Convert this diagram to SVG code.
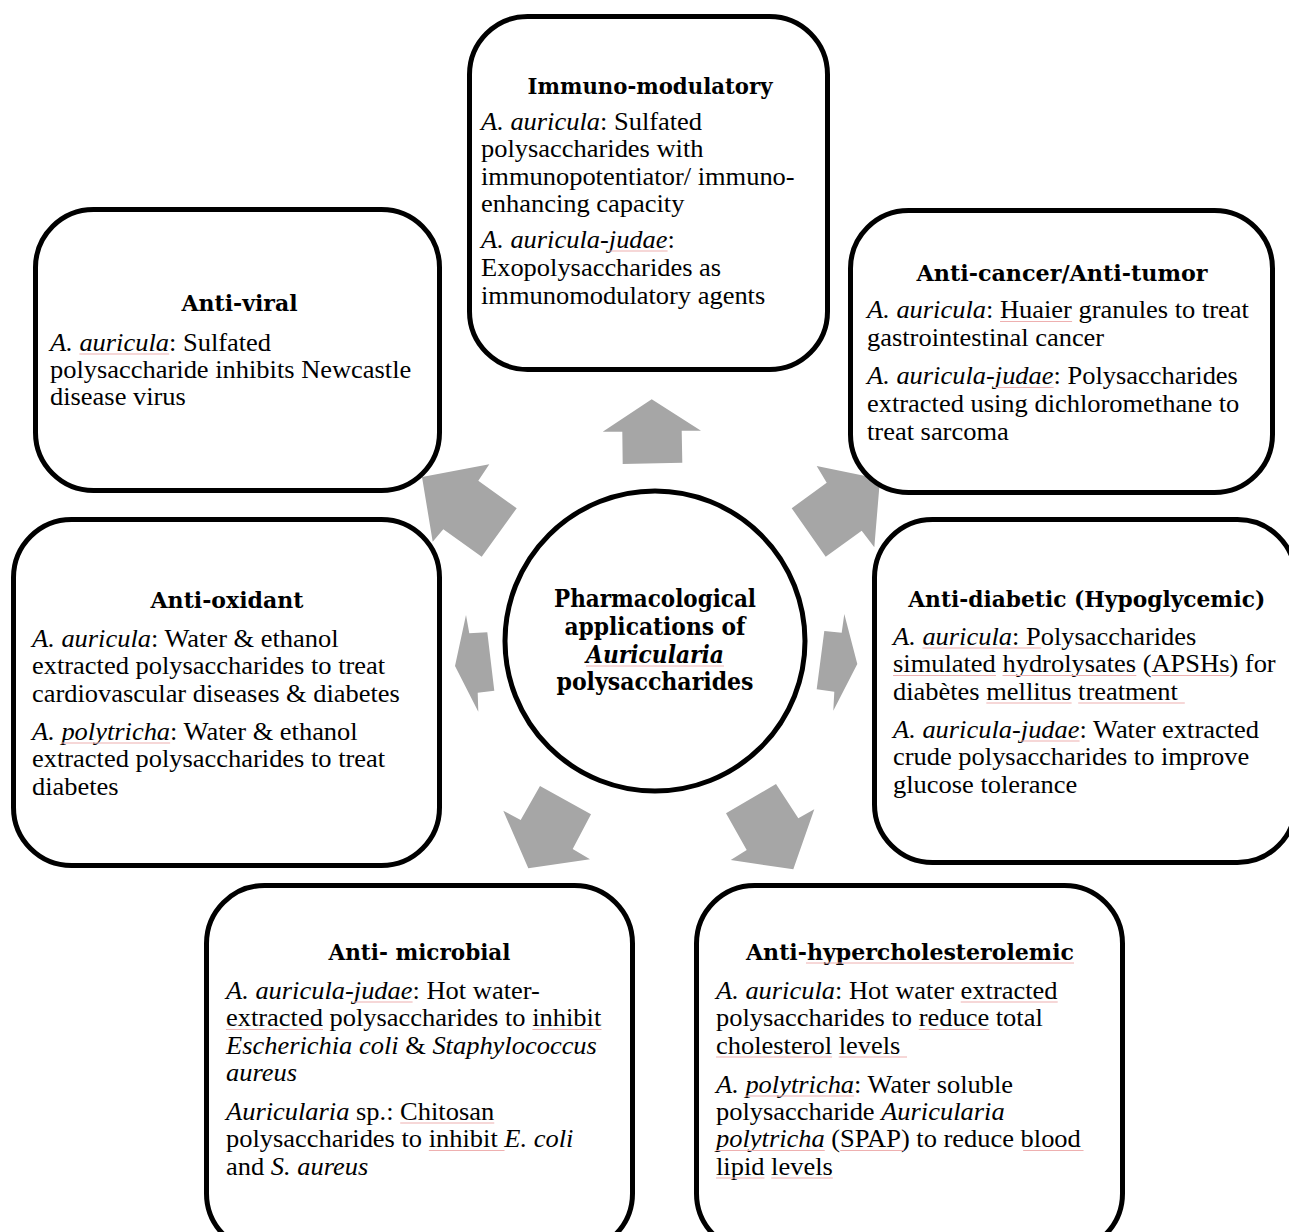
<svg xmlns="http://www.w3.org/2000/svg" width="1289" height="1232" viewBox="0 0 1289 1232">
<style>
.box{fill:#fff;stroke:#000;stroke-width:5}
.arrow{fill:#a6a6a6}
.h{font-family:"DejaVu Serif",serif;font-weight:bold;font-size:23px;text-anchor:middle;fill:#000}
.c{font-size:24px}
.b{font-family:"Liberation Serif","Times New Roman",serif;font-size:24.5px;fill:#000}
.i{font-style:italic}
.sq{fill:none;stroke:#eeb0b0;stroke-width:1}
</style>
<rect width="1289" height="1232" fill="#fff"/>
<g id="connectors">
<polygon class="arrow" points="651.7,399.3 701,430.7 681.7,430.7 682.3,462.7 622.7,464 622.3,431.7 602.7,431.7"/>
<polygon class="arrow" points="422,477 489.3,464.3 478.3,480.7 516.7,508.3 481.7,556.7 443.3,529.3 432.7,541.7"/>
<polygon class="arrow" points="880,479 874.3,547.3 861.7,530.7 825.7,556.7 791.7,508.3 826.7,482.7 816.7,466"/>
<polygon class="arrow" points="455,666 466,615 469.3,633.3 487.3,632.3 494.3,690.7 477.7,692.7 478.3,711.7"/>
<polygon class="arrow" points="857.3,664 833.3,710.7 834.3,691.7 816.7,689.3 824.3,631 841.7,632.7 844.3,614"/>
<polygon class="arrow" points="528.3,868.3 503.3,810.7 520.7,820 540,786 591,814.3 572.7,849 590,859.3"/>
<polygon class="arrow" points="793.3,869.3 730.7,860 746.7,850 726,813.3 776,784 798.3,818.3 814.3,809.3"/>
</g>
<g id="node-immuno">
<rect class="box" x="469.5" y="16.5" width="358" height="353" rx="58"/>
<text class="h" x="650" y="94" textLength="245" lengthAdjust="spacingAndGlyphs">Immuno-modulatory</text>
<g transform="matrix(1.08 0 0 1 481 0)">
<text class="b" x="0" y="130"><tspan class="i">A. auricula</tspan>: Sulfated</text>
<text class="b" x="0" y="157.5">polysaccharides with</text>
<text class="b" x="0" y="185">immunopotentiator/ immuno-</text>
<text class="b" x="0" y="212.5">enhancing capacity</text>
<text class="b" x="0" y="248"><tspan class="i">A. auricula-judae</tspan>:</text>
<text class="b" x="0" y="276.5">Exopolysaccharides as</text>
<text class="b" x="0" y="304.5">immunomodulatory agents</text>
<path class="sq" d="M118.4 251H172.8"/>
</g>
</g>
<g id="node-antiviral">
<rect class="box" x="35.5" y="209.5" width="404" height="281" rx="58"/>
<text class="h" x="239.5" y="311" textLength="116" lengthAdjust="spacingAndGlyphs">Anti-viral</text>
<g transform="matrix(1.08 0 0 1 50 0)">
<text class="b" x="0" y="351"><tspan class="i">A. auricula</tspan>: Sulfated</text>
<text class="b" x="0" y="378">polysaccharide inhibits Newcastle</text>
<text class="b" x="0" y="405">disease virus</text>
<path class="sq" d="M27.2 354H110.3"/>
</g>
</g>
<g id="node-anticancer">
<rect class="box" x="850.5" y="210.5" width="422" height="282" rx="58"/>
<text class="h" x="1062" y="281" textLength="291" lengthAdjust="spacingAndGlyphs">Anti-cancer/Anti-tumor</text>
<g transform="matrix(1.08 0 0 1 867 0)">
<text class="b" x="0" y="318.5"><tspan class="i">A. auricula</tspan>: Huaier granules to treat</text>
<text class="b" x="0" y="346.5">gastrointestinal cancer</text>
<text class="b" x="0" y="384.5"><tspan class="i">A. auricula-judae</tspan>: Polysaccharides</text>
<text class="b" x="0" y="412">extracted using dichloromethane to</text>
<text class="b" x="0" y="440">treat sarcoma</text>
<path class="sq" d="M123.2 321.5H189.9M118.4 387.5H172.8"/>
</g>
</g>
<g id="node-antioxidant">
<rect class="box" x="13.5" y="519.5" width="426" height="346" rx="58"/>
<text class="h" x="227" y="608" textLength="153" lengthAdjust="spacingAndGlyphs">Anti-oxidant</text>
<g transform="matrix(1.08 0 0 1 32 0)">
<text class="b" x="0" y="647"><tspan class="i">A. auricula</tspan>: Water &amp; ethanol</text>
<text class="b" x="0" y="674.5">extracted polysaccharides to treat</text>
<text class="b" x="0" y="702">cardiovascular diseases &amp; diabetes</text>
<text class="b" x="0" y="740"><tspan class="i">A. polytricha</tspan>: Water &amp; ethanol</text>
<text class="b" x="0" y="767.5">extracted polysaccharides to treat</text>
<text class="b" x="0" y="795">diabetes</text>
<path class="sq" d="M27.2 743H127.9"/>
</g>
</g>
<g id="node-antidiabetic">
<rect class="box" x="874.5" y="519.5" width="421" height="343" rx="58"/>
<text class="h" x="1086.7" y="607" textLength="357" lengthAdjust="spacingAndGlyphs">Anti-diabetic (Hypoglycemic)</text>
<g transform="matrix(1.08 0 0 1 893 0)">
<text class="b" x="0" y="645"><tspan class="i">A. auricula</tspan>: Polysaccharides</text>
<text class="b" x="0" y="672.5">simulated hydrolysates (APSHs) for</text>
<text class="b" x="0" y="700">diabètes mellitus treatment</text>
<text class="b" x="0" y="738"><tspan class="i">A. auricula-judae</tspan>: Water extracted</text>
<text class="b" x="0" y="765.5">crude polysaccharides to improve</text>
<text class="b" x="0" y="793">glucose tolerance</text>
<path class="sq" d="M27.2 648H137.2M0 675.5H95.3M101.4 675.5H225.3M239.5 675.5H311.7M86.4 703H165.4M171.5 703H270.2M118.4 741H172.8"/>
</g>
</g>
<g id="node-antimicrobial">
<rect class="box" x="206.5" y="885.5" width="426" height="366" rx="58"/>
<text class="h" x="419.5" y="960" textLength="182" lengthAdjust="spacingAndGlyphs">Anti- microbial</text>
<g transform="matrix(1.08 0 0 1 226 0)">
<text class="b" x="0" y="999"><tspan class="i">A. auricula-judae</tspan>: Hot water-</text>
<text class="b" x="0" y="1026.5">extracted polysaccharides to inhibit</text>
<text class="b" x="0" y="1054"><tspan class="i">Escherichia coli</tspan> &amp; <tspan class="i">Staphylococcus</tspan></text>
<text class="b" x="0" y="1081.5"><tspan class="i">aureus</tspan></text>
<text class="b" x="0" y="1120"><tspan class="i">Auricularia</tspan> sp.: Chitosan</text>
<text class="b" x="0" y="1147.5">polysaccharides to inhibit <tspan class="i">E. coli</tspan></text>
<text class="b" x="0" y="1175">and <tspan class="i">S. aureus</tspan></text>
<path class="sq" d="M118.4 1002H172.8M0 1029.5H89.8M283.7 1029.5H347.7M161.3 1123H248.4M187.8 1150.5H257.9"/>
</g>
</g>
<g id="node-antihypercholesterolemic">
<rect class="box" x="696.5" y="885.5" width="426" height="366" rx="58"/>
<text class="h" x="910" y="960" textLength="328" lengthAdjust="spacingAndGlyphs">Anti-hypercholesterolemic</text>
<path class="sq" d="M806 963H1074"/>
<g transform="matrix(1.08 0 0 1 716 0)">
<text class="b" x="0" y="999"><tspan class="i">A. auricula</tspan>: Hot water extracted</text>
<text class="b" x="0" y="1026.5">polysaccharides to reduce total</text>
<text class="b" x="0" y="1054">cholesterol levels</text>
<text class="b" x="0" y="1093"><tspan class="i">A. polytricha</tspan>: Water soluble</text>
<text class="b" x="0" y="1120">polysaccharide <tspan class="i">Auricularia</tspan></text>
<text class="b" x="0" y="1147.5"><tspan class="i">polytricha</tspan> (SPAP) to reduce blood</text>
<text class="b" x="0" y="1175">lipid levels</text>
<path class="sq" d="M226.6 1002H316.4M187.8 1029.5H253.1M0 1057H107.5M113.6 1057H176.9M27.2 1096H127.9M0 1150.5H100.7M115 1150.5H173.6M284.4 1150.5H340.3M0 1178H44.9M51.1 1178H108.2"/>
</g>
</g>
<g id="node-center">
<circle class="box" cx="655" cy="641" r="150"/>
<text class="h c" x="655" y="607" textLength="202" lengthAdjust="spacingAndGlyphs">Pharmacological</text>
<text class="h c" x="655" y="635" textLength="181" lengthAdjust="spacingAndGlyphs">applications of</text>
<text class="h c i" x="655" y="663" textLength="138" lengthAdjust="spacingAndGlyphs">Auricularia</text>
<path class="sq" d="M586 666H724"/>
<text class="h c" x="655" y="690" textLength="197" lengthAdjust="spacingAndGlyphs">polysaccharides</text>
</g>
</svg>
